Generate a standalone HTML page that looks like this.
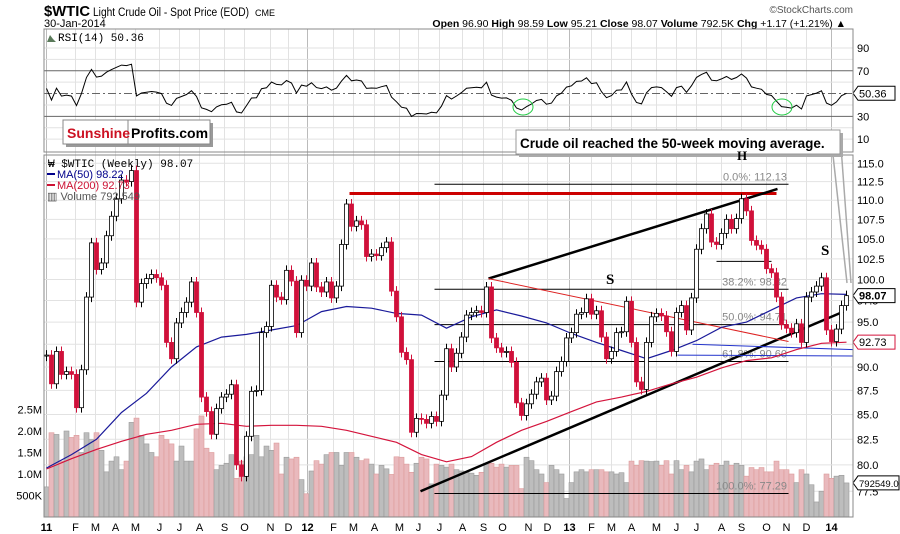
<!DOCTYPE html>
<html><head><meta charset="utf-8"><style>
html,body{margin:0;padding:0;background:#fff;width:900px;height:534px;overflow:hidden}
svg{display:block;font-family:"Liberation Sans",sans-serif}
</style></head><body>
<svg id="chart" width="900" height="534" viewBox="0 0 900 534" xmlns="http://www.w3.org/2000/svg">
<g id="header">
<text x="44" y="16" font-size="15" font-weight="bold" textLength="46" lengthAdjust="spacingAndGlyphs">$WTIC</text>
<text x="93" y="16" font-size="11.5" textLength="156" lengthAdjust="spacingAndGlyphs">Light Crude Oil - Spot Price (EOD)</text>
<text x="255" y="16" font-size="9">CME</text>
<text x="44" y="27" font-size="11">30-Jan-2014</text>
<text x="853" y="13" font-size="10" fill="#555" text-anchor="end">©StockCharts.com</text>
<text x="846" y="27" font-size="10.5" text-anchor="end"><tspan font-weight="bold">Open</tspan> 96.90 <tspan font-weight="bold">High</tspan> 98.59 <tspan font-weight="bold">Low</tspan> 95.21 <tspan font-weight="bold">Close</tspan> 98.07 <tspan font-weight="bold">Volume</tspan> 792.5K <tspan font-weight="bold">Chg</tspan> +1.17 (+1.21%) ▲</text>
</g>
<g id="grid"></g>
<g id="vol"></g>
<g id="annot"></g>
<g id="ma"></g>
<g id="candles"></g>
<g id="rsi"></g>
<g id="axes"></g>
<g id="overlay">
<rect x="44" y="29" width="809" height="123" fill="none" stroke="#888"/>
<rect x="44" y="155" width="809" height="362" fill="none" stroke="#888"/>
<g><path d="M47,42 L50,35 L53,39 L56,42 Z" fill="#5a7a5a"/><text x="58" y="41" font-size="11" font-family="Liberation Mono, monospace">RSI(14) 50.36</text></g>
<g>
<rect x="66" y="123" width="147" height="24" fill="#999"/>
<rect x="63" y="120" width="147" height="24" fill="#fff" stroke="#888"/>
<line x1="128" y1="120" x2="128" y2="144" stroke="#888"/>
<text x="67" y="138" font-size="14" font-weight="bold" fill="#cc1122">Sunshine</text>
<text x="131" y="138" font-size="14" font-weight="bold" fill="#000">Profits.com</text>
</g>
<g font-size="11">
<text x="48" y="167" font-family="Liberation Mono, monospace">₩ $WTIC (Weekly) 98.07</text>
<line x1="47" y1="174" x2="55" y2="174" stroke="#00008b" stroke-width="2"/><text x="57" y="178" fill="#00008b">MA(50) 98.22</text>
<line x1="47" y1="185" x2="55" y2="185" stroke="#cc1133" stroke-width="2"/><text x="57" y="189" fill="#cc1133">MA(200) 92.73</text>
<text x="47" y="200" fill="#555">▥ Volume 792,549</text>
</g>
<g stroke="#aaa" stroke-width="1.5" fill="none">
<line x1="833" y1="155" x2="847" y2="283"/><line x1="840" y1="133" x2="851" y2="283"/>
</g>
<g>
<rect x="519" y="133" width="324" height="24" fill="#aaa"/>
<rect x="516" y="130" width="324" height="24" fill="#fff" stroke="#999"/>
<text x="520" y="148" font-size="13.5" font-weight="bold">Crude oil reached the 50-week moving average.</text>
</g>
<ellipse cx="523" cy="107" rx="10" ry="8" fill="none" stroke="#22cc44"/>
<ellipse cx="782" cy="107" rx="10" ry="8" fill="none" stroke="#22cc44"/>
<text x="606" y="284" font-size="15" font-weight="bold" font-family="Liberation Serif, serif">S</text>
<text x="821" y="255" font-size="15" font-weight="bold" font-family="Liberation Serif, serif">S</text>
<text x="737" y="160" font-size="13" font-weight="bold" font-family="Liberation Serif, serif">H</text>
</g>
</svg>
<script>
const closes=[91.3,88.2,91.7,89.2,89.5,89.2,85.7,89.7,97.9,104.5,101.2,102,105.4,107.9,110.2,112.7,112.5,114,97.3,99.5,100.1,100.6,100.2,99.3,92.7,90.9,94.9,96.1,97.3,99.7,96.1,86.8,85.3,83,85.6,86.8,87.1,88.1,80,78.9,82.8,87.4,87.5,93.8,94.5,99.3,97.9,97.6,101.1,99.8,93.8,99.9,99.2,102,99.1,98.5,99.7,97.8,99.2,104.3,109.5,106.6,107.3,106.8,102.8,103.1,102.9,103.9,104.6,98.6,95.6,91.6,90.8,83.2,84.6,84.5,84.1,84.8,84.3,87,92,90,91.5,93.3,95.8,96.1,96.3,96.1,99.1,93.2,92.1,91.6,91.7,90.5,86.2,84.9,86.1,87.1,88.4,88.8,86.5,86.9,89.5,90.6,93.2,93.8,95.9,96.1,97.7,95.9,96.3,93.3,90.9,91.7,93.8,93.9,97.4,92.7,88.4,87.6,92.7,95.6,96,95.7,93.9,91.7,96.1,96.9,94.1,97.8,103.7,106.3,108.2,104.6,104.3,105.7,107.5,106.3,107.6,110.2,108.6,104.8,104.2,103.7,101.3,100.8,97.9,94.7,94.3,93.8,94.8,92.7,97.9,98.5,99.2,100.2,94.1,92.8,94.2,96.9,98.07];
const volumesM=[0.7,1.96,1.92,1.3,2.0,1.85,1.9,1.5,1.96,1.8,1.96,1.55,1.05,1.3,1.4,1.1,1.3,2.2,2.3,1.9,1.7,1.5,1.4,1.9,1.8,1.7,1.3,1.65,1.3,1.3,2.05,2.35,1.6,1.5,1.1,1.2,1.25,1.45,0.9,1.3,1.4,1.45,1.9,1.4,1.65,1.55,1.72,1.0,1.39,1.35,1.39,0.87,0.54,1.07,1.31,1.23,1.45,1.5,1.5,1.2,1.5,1.5,1.39,1.31,1.35,1.23,1.0,1.2,1.12,0.99,1.4,1.39,1.23,1.04,1.25,1.39,1.35,0.77,1.23,1.2,1.16,1.23,1.1,1.07,1.04,1.02,0.97,1.04,1.23,1.25,1.16,1.23,1.16,1.2,1.2,0.66,1.39,1.31,1.1,1.0,0.8,1.2,1.1,1.0,0.43,0.8,1.05,1.1,1.05,1.1,1.1,1.1,1.05,1.05,1.0,1.03,0.8,1.3,1.2,1.31,1.3,1.29,1.3,1.2,1.31,1.0,1.31,1.1,1.2,1.05,1.3,1.35,1.1,1.2,1.25,1.2,1.3,1.2,1.25,1.2,0.95,1.15,1.1,1.15,1.05,1.05,1.3,1.1,1.1,1.0,0.8,1.1,1.0,0.75,0.35,0.6,1.0,0.9,0.95,0.97,0.7925];
const maWeeks=[0,5,10,15,20,25,30,35,40,45,50,55,60,65,70,75,80,85,90,95,100,105,110,115,120,125,130,135,140,145,150,155,160];
const ma50=[79.7,81,82.5,85.2,87.2,90,92.2,93.3,93.6,94.1,94.6,96.2,96.8,96.6,96,95.8,94.3,95.6,96.4,95.7,94.9,93.7,92.7,91.8,90.9,91.8,92.9,94.4,95,96.4,97.8,98.3,98.22];
const ma200=[79.6,80.6,81.5,82.3,83,83.4,84,84.1,83.8,83.9,83.9,83.8,83.4,82.8,82.2,81,80.3,80.8,82.2,83.4,84.3,85.3,86.3,86.8,87.4,88.2,88.9,89.9,90.7,91,91.9,92.6,92.73];
const priceTicks=[115,112.5,110,107.5,105,102.5,100,97.5,95,92.5,90,87.5,85,82.5,80,77.5];
const rsiTicks=[90,70,30,10];
const volTicks=[2.5,2.0,1.5,1.0,0.5];
const volTickLabels=["2.5M","2.0M","1.5M","1.0M","500K"];
const monthLabels=["11","F","M","A","M","J","J","A","S","O","N","D","12","F","M","A","M","J","J","A","S","O","N","D","13","F","M","A","M","J","J","A","S","O","N","D","14"];
const monthWeeks=[0.4,6.2,10.2,14.2,18.2,23,27,31,36,40,45.2,48.8,52.6,57.8,61.8,66,71,74.8,79,83.6,87.8,91.6,96.8,100.6,105,109.4,113.4,117.4,122.4,126.4,130.4,135.4,139.4,144.4,148.4,152.4,157.4];
const fibLevels=[112.13,98.82,94.71,90.60,77.29];
const fibLabels=["0.0%: 112.13","38.2%: 98.82","50.0%: 94.71","61.8%: 90.60","100.0%: 77.29"];

const NS="http://www.w3.org/2000/svg";
function X(i){return 46.5+5*i;}
function Y(p){return 163.3+831*Math.log(115/p);}
function RY(r){return 150.5-r*1.139;}
function VY(v){return 517-v*43;}
function el(tag,attrs,parent){const e=document.createElementNS(NS,tag);for(const k in attrs)e.setAttribute(k,attrs[k]);parent.appendChild(e);return e;}
const G=id=>document.getElementById(id);

const grid=G('grid');
monthWeeks.forEach((w,k)=>{const yr=/^\d/.test(monthLabels[k]);
 const l=el('line',{x1:X(w)-2,x2:X(w)-2,y1:29,y2:517,stroke:yr?'#bbb':'#e2e2e2','stroke-width':1},grid);
 
 
 const t=el('text',{x:X(w)-2,y:531,'font-size':11,'text-anchor':'middle','font-weight':yr?'bold':'normal'},G('axes'));
 t.textContent=monthLabels[k];
 
 
});
priceTicks.forEach(p=>{const l=el('line',{x1:44,x2:853,y1:Y(p),y2:Y(p),stroke:'#e2e2e2'},grid);
 
 
 const t=el('text',{x:857,y:Y(p)+4,'font-size':11},G('axes'));t.textContent=p.toFixed(1);
 
 
});
for(let r=10;r<=90;r+=10){if(r===30||r===50||r===70)continue;const l=el('line',{x1:44,x2:853,y1:RY(r),y2:RY(r),stroke:'#e2e2e2'},grid);
 
 }
[30,70].forEach(r=>{const l=el('line',{x1:44,x2:853,y1:RY(r),y2:RY(r),stroke:'#666'},grid);
 
 });
{const l=el('line',{x1:44,x2:853,y1:RY(50),y2:RY(50),stroke:'#666','stroke-dasharray':'8,3,2,3'},grid);
 
 }
rsiTicks.forEach(r=>{const t=el('text',{x:857,y:RY(r)+4,'font-size':11},G('axes'));t.textContent=r;
 
 });
volTicks.forEach((v,k)=>{const t=el('text',{x:42,y:VY(v)+4,'font-size':11,'text-anchor':'end'},G('axes'));t.textContent=volTickLabels[k];
 
 });

volumesM.forEach((v,i)=>{const down=i>0&&closes[i]<closes[i-1];
 const r=el('rect',{x:X(i)-2.5,y:VY(v),width:5,height:517-VY(v),fill:down?'#e9b9bd':'#bdbdbd',stroke:down?'#d99':'#999','stroke-width':0.6},G('vol'));
 
 });

const an=G('annot');
function aline(w1,p1,w2,p2,st,sw,name){const l=el('line',{x1:X(w1),y1:Y(p1),x2:X(w2),y2:Y(p2),stroke:st,'stroke-width':sw},an);
 
 }
fibLevels.forEach((p,k)=>{aline(77.6,p,148.4,p,'#000',1,'fib-level-line');
 const t=el('text',{x:787,y:Y(p)-4,'font-size':11,'text-anchor':'end',fill:'#888'},an);t.textContent=fibLabels[k];
 
 });
aline(60.6,110.9,146,110.9,'#c00',3,'resistance-line');
aline(134,102.2,145,102.2,'#000',1,'support-short-line');
aline(88.4,100.1,146.2,111.5,'#000',2.5,'channel-upper-line');
aline(74.8,77.5,159.4,96.2,'#000',2.5,'channel-lower-line');
aline(88.4,100.1,148.4,92.8,'#d22',1,'declining-red-line');
aline(129.2,92.5,161.4,91.9,'#2233cc',1,'blue-line-1');
aline(126.2,91.3,161.4,91.2,'#2233cc',1,'blue-line-2');

function maPath(vals,col,name){const d=vals.map((v,k)=>(k?'L':'M')+X(maWeeks[k]).toFixed(1)+','+Y(v).toFixed(1)).join(' ');
 const p=el('path',{d:d,fill:'none',stroke:col,'stroke-width':1.2},G('ma'));
 
 }
maPath(ma200,'#d4143c','ma200-line');
maPath(ma50,'#1a1a9a','ma50-line');

closes.forEach((c,i)=>{const o=i?closes[i-1]:c;const up=c>=o;
 const yt=Math.min(Y(o),Y(c)),yb=Math.max(Y(o),Y(c));const h=Math.max(1,yb-yt);
 const g=el('g',{},G('candles'));
 
 
 el('line',{x1:X(i),x2:X(i),y1:yt-5,y2:yt+h+5,stroke:up?'#000':'#d0103a','stroke-width':1},g);
 el('rect',{x:X(i)-2,y:yt,width:4,height:h,fill:up?'#fff':'#d0103a',stroke:up?'#000':'#d0103a','stroke-width':0.8},g);
});

let ag=0.6,al=0.5;const rsi=[];
closes.forEach((c,i)=>{const ch=i?c-closes[i-1]:0;ag=(ag*13+Math.max(ch,0))/14;al=(al*13+Math.max(-ch,0))/14;rsi.push(100-100/(1+ag/al));});
const rd=rsi.map((r,i)=>(i?'L':'M')+X(i).toFixed(1)+','+RY(r).toFixed(1)).join(' ');
{const p=el('path',{d:rd,fill:'none',stroke:'#000','stroke-width':1},G('rsi'));
 
 }

function tag(y,txt,col,bold,name,fs){const g=el('g',{},G('axes'));
 
 
 const w=Math.min(txt.length*fs*0.6+4,41);
 el('path',{d:`M853,${y} L858,${y-7} L${858+w},${y-7} L${858+w},${y+7} L858,${y+7} Z`,fill:'#fff',stroke:col},g);
 const t=el('text',{x:859,y:y+4,'font-size':fs,'font-weight':bold?'bold':'normal'},g);t.textContent=txt;}
tag(RY(rsi[rsi.length-1]),'50.36','#000',false,'rsi-value-tag',11);
tag(Y(closes[closes.length-1]),'98.07','#000',true,'price-value-tag',11);
tag(Y(ma200[ma200.length-1]),'92.73','#d4143c',false,'ma200-value-tag',11);
tag(VY(volumesM[volumesM.length-1]),'792549.0','#000',false,'volume-value-tag',9.5);
</script>
</body></html>
